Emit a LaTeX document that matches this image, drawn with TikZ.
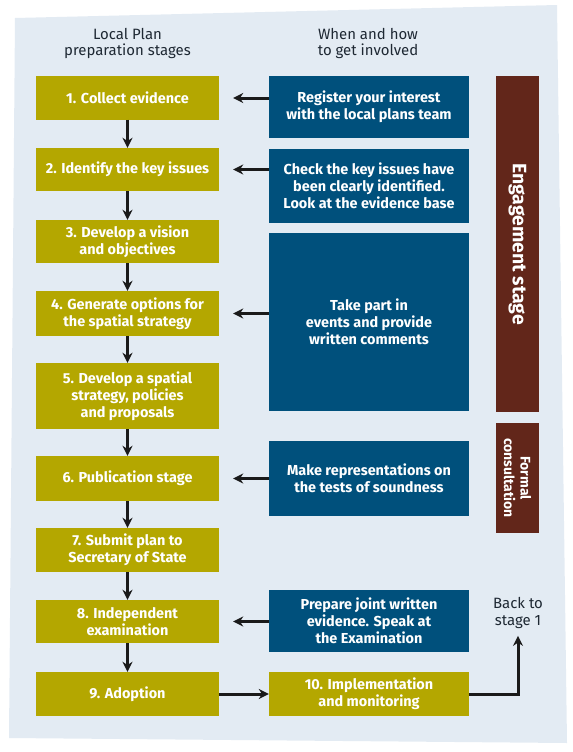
\documentclass[tikz,border=0pt]{standalone}
\usepackage{fontspec}
\setmainfont{Fira Sans}
\usepackage{xcolor}
\usepackage{tikz}
\usetikzlibrary{shapes, arrows.meta, calc}
\definecolor{fond}{HTML}{E3EBF3}
\definecolor{jaune}{HTML}{B4A700}
\definecolor{bleu}{HTML}{00507C}
\definecolor{brun}{HTML}{62261A}
\definecolor{encre}{HTML}{1E2833}
\definecolor{noir}{HTML}{1A1A1A}
\tikzstyle{etape} = [rectangle, fill=jaune, text=white, font=\bfseries\fontsize{14.5}{17}\selectfont, minimum width=183bp, inner sep=0pt, align=center]
\tikzstyle{action} = [rectangle, fill=bleu, text=white, font=\bfseries\fontsize{14.5}{17}\selectfont, minimum width=200bp, inner sep=0pt, align=center]
\tikzstyle{phase} = [rectangle, fill=brun, text=white, rotate=-90, minimum height=43bp, inner sep=0pt, align=center]
\tikzstyle{entete} = [text=encre, font=\fontsize{15}{17}\selectfont, inner sep=0pt, align=center]
\tikzstyle{fleche} = [-{Stealth[length=10bp, width=10bp]}, line width=3bp, draw=noir]

\begin{document}
\begin{tikzpicture}[x=1bp, y=-1bp]
    \useasboundingbox (0,0) rectangle (573,752);
    \fill[fond] (15,18) -- (557,5) -- (567,743) -- (9,738) -- cycle;

    \node (titre1) [entete] at (127.5,43.5) {Local Plan\\preparation stages};
    \node (titre2) [entete] at (368,43.5) {When and how\\to get involved};

    % colonne de gauche
    \node (s1) [etape, minimum height=43bp] at (127.5,98) {1. Collect evidence};
    \node (s2) [etape, minimum height=43bp] at (127.5,169.5) {2. Identify the key issues};
    \node (s3) [etape, minimum height=43bp] at (127.5,241.5) {3. Develop a vision\\and objectives};
    \node (s4) [etape, minimum height=45bp] at (127.5,313.5) {4. Generate options for\\the spatial strategy};
    \node (s5) [etape, minimum height=66bp] at (127.5,396) {5. Develop a spatial\\strategy, policies\\and proposals};
    \node (s6) [etape, minimum height=45bp] at (127.5,478.5) {6. Publication stage};
    \node (s7) [etape, minimum height=44bp] at (127.5,550) {7. Submit plan to\\Secretary of State};
    \node (s8) [etape, minimum height=43bp] at (127.5,621.5) {8. Independent\\examination};
    \node (s9) [etape, minimum height=44bp] at (127.5,694) {9. Adoption};

    % colonne de droite
    \node (b1) [action, minimum height=62bp] at (369,107) {Register your interest\\with the local plans team};
    \node (b2) [action, minimum height=74bp] at (369,186) {Check the key issues have\\been clearly identified.\\Look at the evidence base};
    \node (b3) [action, minimum height=178bp] at (369,322) {Take part in\\events and provide\\written comments};
    \node (b4) [action, minimum height=75bp] at (369,478.5) {Make representations on\\the tests of soundness};
    \node (b5) [action, minimum height=62bp] at (369,621) {Prepare joint written\\evidence. Speak at\\the Examination};
    \node (s10) [etape, minimum width=200bp, minimum height=44bp] at (369,694) {10. Implementation\\and monitoring};

    \node (engagement) [phase, minimum width=336bp, font=\bfseries\fontsize{19.5}{20}\selectfont] at (517.5,244) {Engagement stage};
    \node (formal) [phase, minimum width=110bp, font=\bfseries\fontsize{14}{16.5}\selectfont] at (517.5,478) {Formal\\consultation};

    \node (retour) [entete] at (518,613) {Back to\\stage 1};

    \foreach \a/\b in {s1/s2, s2/s3, s3/s4, s4/s5, s5/s6, s6/s7, s7/s8, s8/s9, s9/s10}
        \draw[fleche] (\a) -- (\b);

    \foreach \b/\s in {b1/s1, b2/s2, b3/s4, b4/s6, b5/s8}
        \draw[fleche, shorten >=14bp] (\s.east -| \b.west) -- (\s.east);

    \draw[fleche] (s10.east) -| ([yshift=-7bp]retour.south);
\end{tikzpicture}
\end{document}
